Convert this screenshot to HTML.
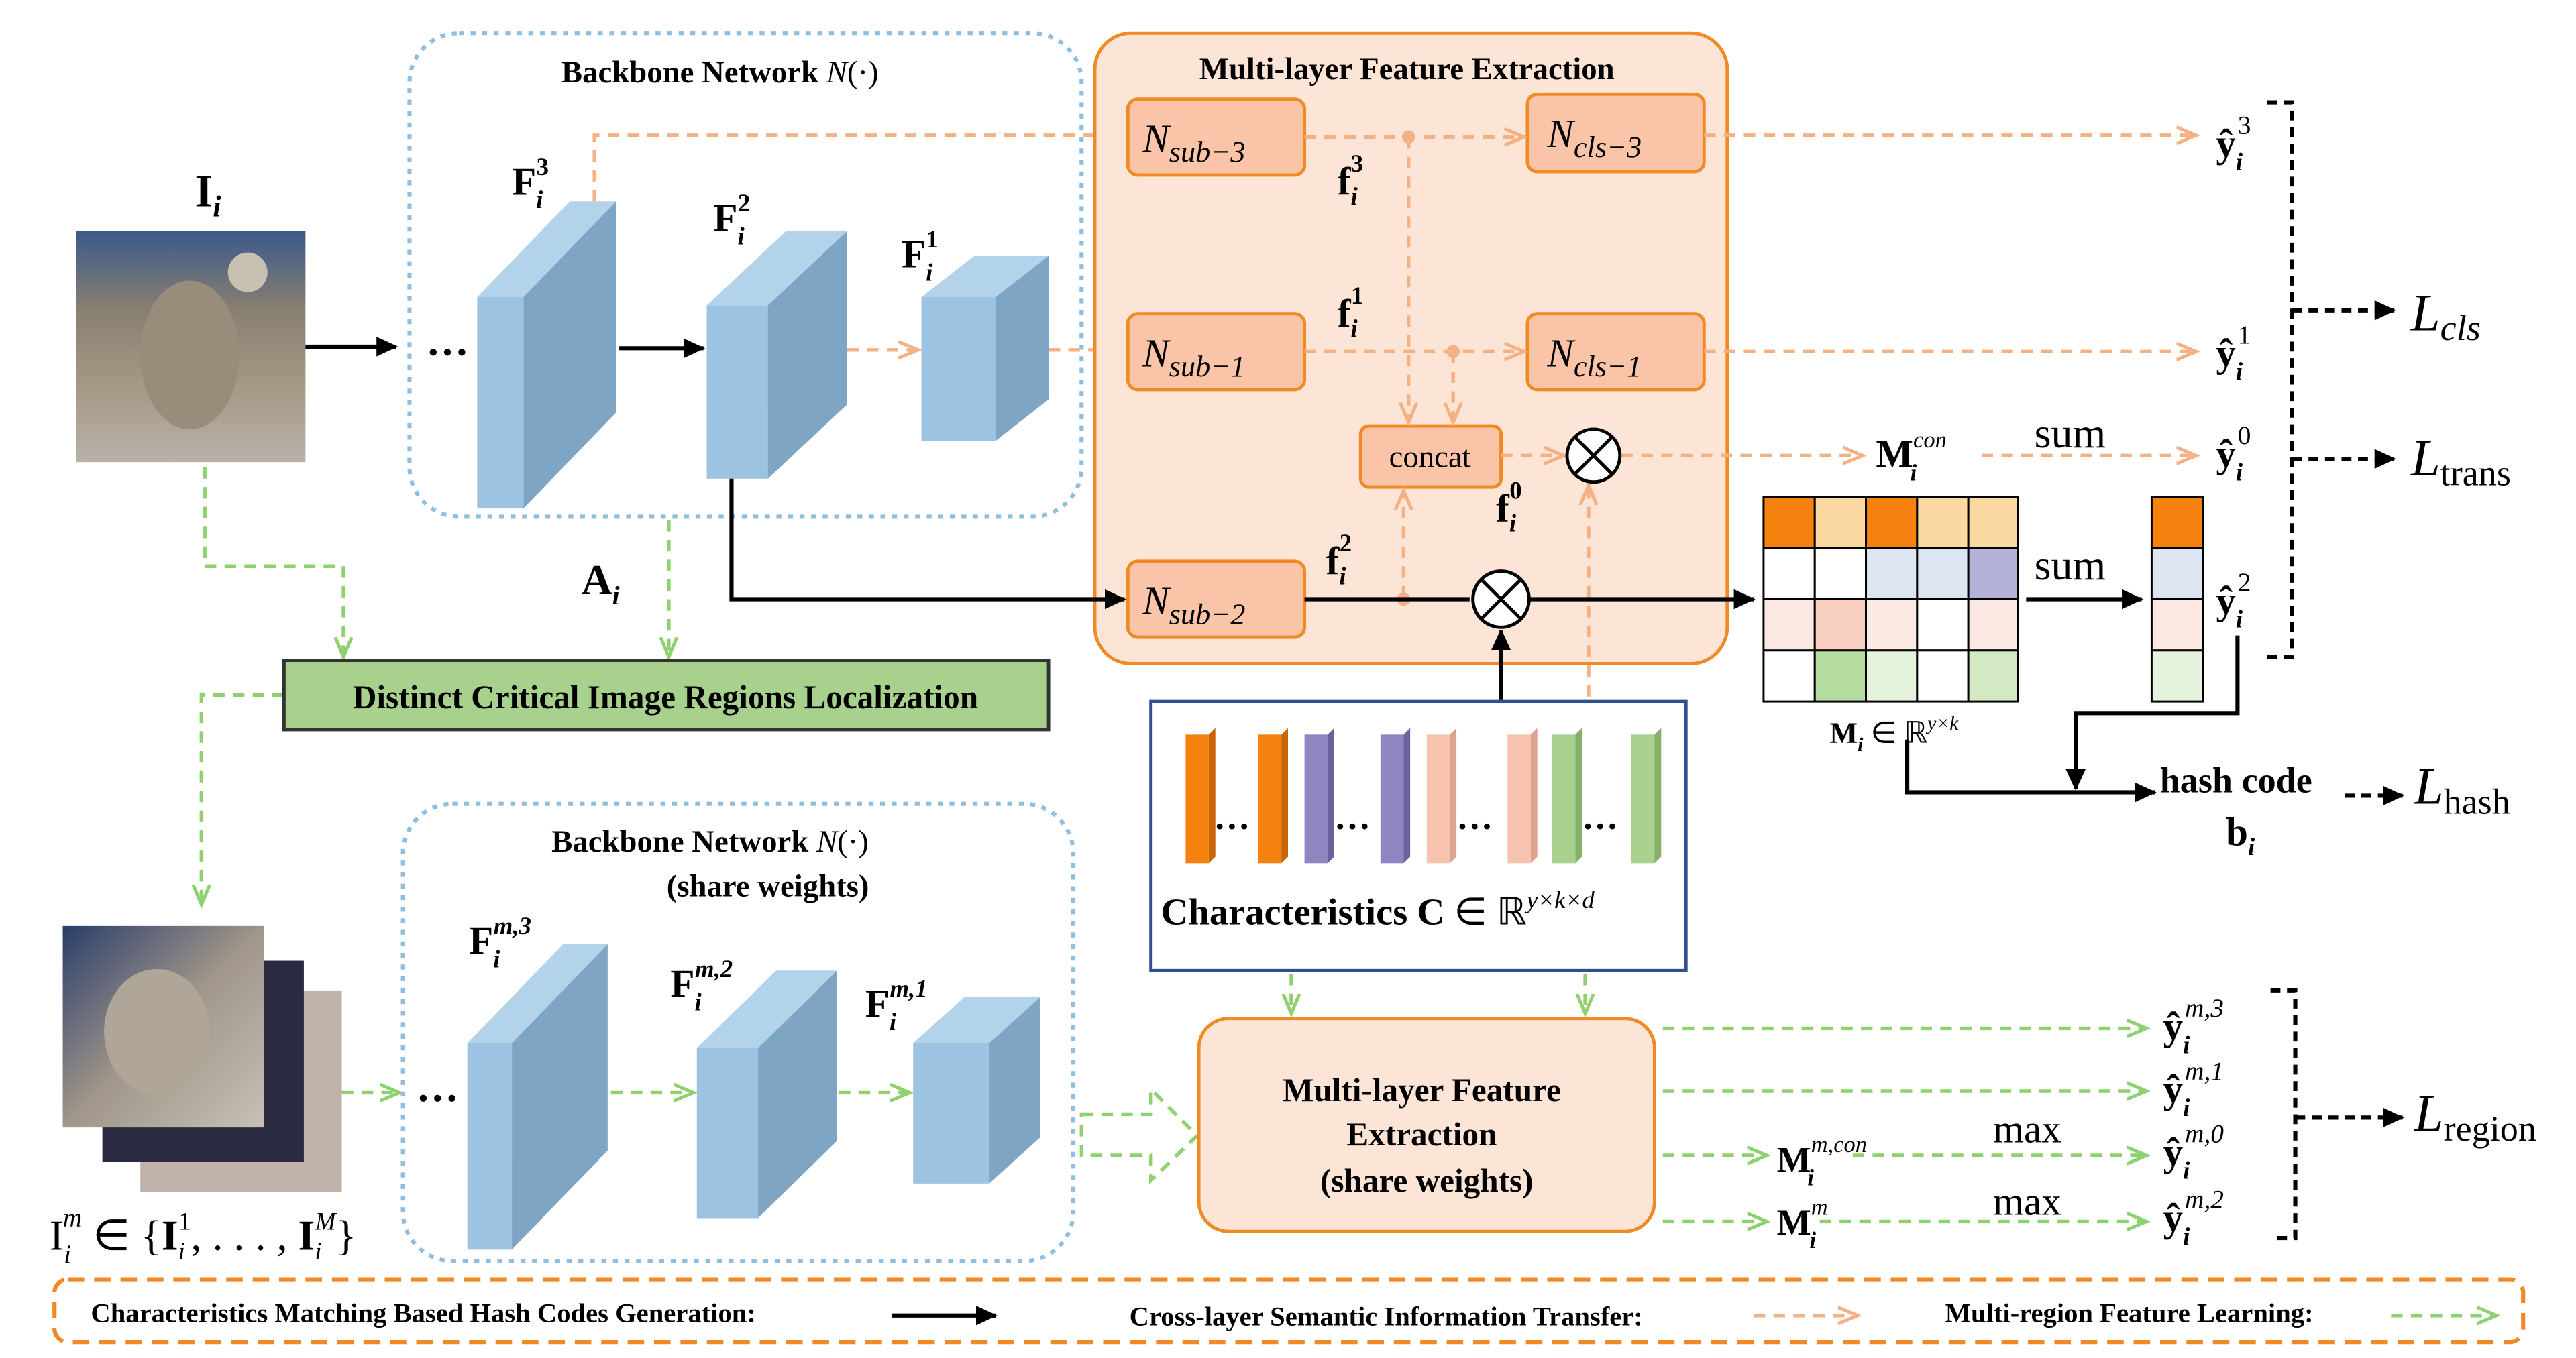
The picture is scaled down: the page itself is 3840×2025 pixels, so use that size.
<!DOCTYPE html>
<html><head><meta charset="utf-8"><style>
html,body{margin:0;padding:0;background:#fff}
svg{display:block}
text{font-family:"Liberation Serif",serif;fill:#000}
.b{font-weight:bold}
.i{font-style:italic}
</style></head><body>
<svg width="3840" height="2025" viewBox="0 0 1560 822.7" preserveAspectRatio="none" xmlns="http://www.w3.org/2000/svg">
<defs>
<marker id="ak" markerUnits="userSpaceOnUse" markerWidth="14" markerHeight="12" refX="12" refY="6" orient="auto"><path d="M0,0 L13,6 L0,12 z" fill="#000"/></marker>
<marker id="ao" markerUnits="userSpaceOnUse" markerWidth="14" markerHeight="12" refX="12" refY="6" orient="auto"><path d="M0,1 L12,6 L0,11" fill="none" stroke="#f4b183" stroke-width="2"/></marker>
<marker id="ag" markerUnits="userSpaceOnUse" markerWidth="14" markerHeight="12" refX="12" refY="6" orient="auto"><path d="M0,1 L12,6 L0,11" fill="none" stroke="#8fd16f" stroke-width="2"/></marker>
<linearGradient id="bird" x1="0" y1="0" x2="0" y2="1"><stop offset="0" stop-color="#3c5a8a"/><stop offset="0.35" stop-color="#8a8070"/><stop offset="0.7" stop-color="#a89a88"/><stop offset="1" stop-color="#b8b0a8"/></linearGradient>
<linearGradient id="bird2" x1="0" y1="0" x2="1" y2="1"><stop offset="0" stop-color="#2a3e6a"/><stop offset="0.5" stop-color="#a0968a"/><stop offset="1" stop-color="#c8c0b4"/></linearGradient>
</defs>

<!-- input image -->
<text x="118" y="125" class="b" font-size="28">I<tspan font-size="18" class="i" dy="6">i</tspan></text>
<rect x="46" y="140" width="139" height="140" fill="url(#bird)"/>
<ellipse cx="115" cy="215" rx="30" ry="45" fill="#9a8c7a"/>
<circle cx="150" cy="165" r="12" fill="#c8c0b0"/>
<line x1="185" y1="210" x2="240" y2="210" stroke="#000" stroke-width="2.5" marker-end="url(#ak)"/>

<!-- Backbone 1 -->
<rect x="248" y="20" width="407" height="293" rx="30" fill="none" stroke="#8fbfe0" stroke-width="2.5" stroke-dasharray="3,4"/>
<text x="340" y="50" class="b" font-size="19">Backbone Network <tspan class="i" font-weight="normal">N</tspan><tspan font-weight="normal">(·)</tspan></text>

<g>
<polygon points="289,180 345,122 373,122 317,180" fill="#b3d3ea"/><rect x="289" y="180" width="28" height="128" fill="#9cc3e2"/><polygon points="317,180 373,122 373,250 317,308" fill="#7ea5c3"/>
<polygon points="428,185 476,140 513,140 465,185" fill="#b3d3ea"/><rect x="428" y="185" width="37" height="105" fill="#9cc3e2"/><polygon points="465,185 513,140 513,245 465,290" fill="#7ea5c3"/>
<polygon points="558,180 590,155 635,155 603,180" fill="#b3d3ea"/><rect x="558" y="180" width="45" height="87" fill="#9cc3e2"/><polygon points="603,180 635,155 635,242 603,267" fill="#7ea5c3"/>
</g>
<text x="258" y="222" class="b" font-size="26">···</text>
<line x1="375" y1="211" x2="426" y2="211" stroke="#000" stroke-width="2.5" marker-end="url(#ak)"/>
<text x="310" y="118" class="b" font-size="24">F<tspan font-size="15" class="i" dy="8">i</tspan><tspan font-size="15" dx="-4" dy="-20">3</tspan></text>
<text x="432" y="140" class="b" font-size="24">F<tspan font-size="15" class="i" dy="8">i</tspan><tspan font-size="15" dx="-4" dy="-20">2</tspan></text>
<text x="546" y="162" class="b" font-size="24">F<tspan font-size="15" class="i" dy="8">i</tspan><tspan font-size="15" dx="-4" dy="-20">1</tspan></text>

<g stroke="#f4b183" stroke-width="2.2" stroke-dasharray="7,5" fill="none">
<polyline points="360,122 360,82 683,82" marker-end="url(#ao)"/>
<line x1="513" y1="212" x2="556" y2="212" marker-end="url(#ao)"/>
<line x1="635" y1="212" x2="683" y2="212" marker-end="url(#ao)"/>
</g>

<!-- Multi-layer box -->
<rect x="663" y="20" width="383" height="382" rx="22" fill="#fce5d6" stroke="#f08a24" stroke-width="2"/>
<text x="852" y="48" class="b" font-size="19" text-anchor="middle">Multi-layer Feature Extraction</text>
<g fill="#f9c4a8" stroke="#f08a24" stroke-width="2">
<rect x="683" y="60" width="107" height="46" rx="6"/>
<rect x="925" y="57" width="107" height="47" rx="6"/>
<rect x="683" y="190" width="107" height="46" rx="6"/>
<rect x="925" y="190" width="107" height="46" rx="6"/>
<rect x="824" y="258" width="85" height="37" rx="5"/>
<rect x="683" y="340" width="107" height="46" rx="6"/>
</g>
<g class="i" font-size="24">
<text x="692" y="92">N<tspan font-size="18" dy="6">sub−3</tspan></text>
<text x="937" y="89">N<tspan font-size="18" dy="6">cls−3</tspan></text>
<text x="692" y="222">N<tspan font-size="18" dy="6">sub−1</tspan></text>
<text x="937" y="222">N<tspan font-size="18" dy="6">cls−1</tspan></text>
<text x="692" y="372">N<tspan font-size="18" dy="6">sub−2</tspan></text>
</g>
<text x="866" y="283" font-size="19" text-anchor="middle">concat</text>
<g class="b" font-size="24">
<text x="810" y="118">f<tspan font-size="15" class="i" dy="6">i</tspan><tspan font-size="15" dx="-4" dy="-20">3</tspan></text>
<text x="810" y="198">f<tspan font-size="15" class="i" dy="6">i</tspan><tspan font-size="15" dx="-4" dy="-20">1</tspan></text>
<text x="906" y="316">f<tspan font-size="15" class="i" dy="6">i</tspan><tspan font-size="15" dx="-4" dy="-20">0</tspan></text>
<text x="803" y="348">f<tspan font-size="15" class="i" dy="6">i</tspan><tspan font-size="15" dx="-4" dy="-20">2</tspan></text>
</g>

<g stroke="#f4b183" stroke-width="2.2" stroke-dasharray="7,5" fill="none">
<line x1="790" y1="83" x2="923" y2="83" marker-end="url(#ao)"/>
<line x1="853" y1="83" x2="853" y2="256" marker-end="url(#ao)"/>
<line x1="790" y1="213" x2="923" y2="213" marker-end="url(#ao)"/>
<line x1="880" y1="213" x2="880" y2="256" marker-end="url(#ao)"/>
<line x1="909" y1="276" x2="947" y2="276" marker-end="url(#ao)"/>
<line x1="1032" y1="82" x2="1330" y2="82" marker-end="url(#ao)"/>
<line x1="1032" y1="213" x2="1330" y2="213" marker-end="url(#ao)"/>
<line x1="982" y1="276" x2="1128" y2="276" marker-end="url(#ao)"/>
<line x1="1200" y1="276" x2="1330" y2="276" marker-end="url(#ao)"/>
<line x1="850" y1="362" x2="850" y2="297" marker-end="url(#ao)"/>
<line x1="962" y1="422" x2="962" y2="294" marker-end="url(#ao)"/>
</g>
<circle cx="853" cy="83" r="4" fill="#f4b183"/><circle cx="880" cy="213" r="4" fill="#f4b183"/><circle cx="850" cy="363" r="4" fill="#f4b183"/>

<g stroke="#000" stroke-width="2" fill="#fff">
<circle cx="965" cy="276" r="16"/><path d="M954,265 L976,287 M976,265 L954,287"/>
<circle cx="909" cy="363" r="17"/><path d="M897,351 L921,375 M921,351 L897,375"/>
</g>

<g stroke="#000" stroke-width="2.5" fill="none">
<polyline points="443,290 443,363 681,363" marker-end="url(#ak)"/>
<line x1="790" y1="363" x2="890" y2="363"/>
<line x1="926" y1="363" x2="1062" y2="363" marker-end="url(#ak)"/>
<line x1="909" y1="424" x2="909" y2="382" marker-end="url(#ak)"/>
<line x1="1227" y1="363" x2="1297" y2="363" marker-end="url(#ak)"/>
<polyline points="1355,385 1355,432 1257,432 1257,478" marker-end="url(#ak)"/>
<polyline points="1155,448 1155,480 1305,480" marker-end="url(#ak)"/>
</g>

<text x="1136" y="283" class="b" font-size="24">M<tspan font-size="14" class="i" font-weight="normal" dy="-12">con</tspan><tspan font-size="14" class="i" dx="-22" dy="20">i</tspan></text>
<text x="1232" y="271" font-size="26">sum</text>
<text x="1232" y="351" font-size="26">sum</text>

<!-- matrix -->
<g stroke="#000" stroke-width="1.2">
<rect x="1068" y="301" width="31" height="31" fill="#f5820f"/><rect x="1099" y="301" width="31" height="31" fill="#fcd9a0"/><rect x="1130" y="301" width="31" height="31" fill="#f5820f"/><rect x="1161" y="301" width="31" height="31" fill="#fcd9a0"/><rect x="1192" y="301" width="30" height="31" fill="#fcd9a0"/>
<rect x="1068" y="332" width="31" height="31" fill="#fff"/><rect x="1099" y="332" width="31" height="31" fill="#fff"/><rect x="1130" y="332" width="31" height="31" fill="#dde5f3"/><rect x="1161" y="332" width="31" height="31" fill="#dde5f3"/><rect x="1192" y="332" width="30" height="31" fill="#b3b3d9"/>
<rect x="1068" y="363" width="31" height="31" fill="#fde9e3"/><rect x="1099" y="363" width="31" height="31" fill="#f8cfc0"/><rect x="1130" y="363" width="31" height="31" fill="#fde9e3"/><rect x="1161" y="363" width="31" height="31" fill="#fff"/><rect x="1192" y="363" width="30" height="31" fill="#fde9e3"/>
<rect x="1068" y="394" width="31" height="31" fill="#fff"/><rect x="1099" y="394" width="31" height="31" fill="#b5dca0"/><rect x="1130" y="394" width="31" height="31" fill="#e6f3dc"/><rect x="1161" y="394" width="31" height="31" fill="#fff"/><rect x="1192" y="394" width="30" height="31" fill="#d2e9c4"/>
<rect x="1303" y="301" width="31" height="31" fill="#f5820f"/><rect x="1303" y="332" width="31" height="31" fill="#dde5f3"/><rect x="1303" y="363" width="31" height="31" fill="#fde9e3"/><rect x="1303" y="394" width="31" height="31" fill="#e6f3dc"/>
</g>
<text x="1108" y="450" class="b" font-size="18">M<tspan font-size="12" class="i" dy="5">i</tspan><tspan font-weight="normal" dy="-5"> ∈ ℝ</tspan><tspan font-size="12" class="i" font-weight="normal" dy="-8">y×k</tspan></text>

<!-- y hats -->
<g class="b" font-size="24">
<text x="1342" y="95">ŷ<tspan font-size="15" class="i" dy="8">i</tspan><tspan font-size="16" font-weight="normal" dx="-3" dy="-22">3</tspan></text>
<text x="1342" y="222">ŷ<tspan font-size="15" class="i" dy="8">i</tspan><tspan font-size="16" font-weight="normal" dx="-3" dy="-22">1</tspan></text>
<text x="1342" y="283">ŷ<tspan font-size="15" class="i" dy="8">i</tspan><tspan font-size="16" font-weight="normal" dx="-3" dy="-22">0</tspan></text>
<text x="1342" y="372">ŷ<tspan font-size="15" class="i" dy="8">i</tspan><tspan font-size="16" font-weight="normal" dx="-3" dy="-22">2</tspan></text>
</g>
<g stroke="#000" stroke-width="2.5" stroke-dasharray="6,4" fill="none">
<polyline points="1373,62 1388,62 1388,398 1373,398"/>
<line x1="1388" y1="188" x2="1450" y2="188" marker-end="url(#ak)"/>
<line x1="1388" y1="278" x2="1450" y2="278" marker-end="url(#ak)"/>
<line x1="1420" y1="482" x2="1455" y2="482" marker-end="url(#ak)"/>
<polyline points="1375,600 1390,600 1390,750 1375,750"/>
<line x1="1390" y1="677" x2="1455" y2="677" marker-end="url(#ak)"/>
</g>
<text x="1460" y="200" class="i" font-size="32">L<tspan font-size="22" dy="6">cls</tspan></text>
<text x="1460" y="288" class="i" font-size="32">L<tspan font-size="22" font-style="normal" dy="6">trans</tspan></text>
<text x="1462" y="487" class="i" font-size="32">L<tspan font-size="22" font-style="normal" dy="6">hash</tspan></text>
<text x="1462" y="685" class="i" font-size="32">L<tspan font-size="22" font-style="normal" dy="6">region</tspan></text>
<text x="1308" y="480" class="b" font-size="22">hash code</text>
<text x="1348" y="512" class="b" font-size="24">b<tspan font-size="15" class="i" dy="6">i</tspan></text>

<!-- green connectors -->
<g stroke="#8fd16f" stroke-width="2.2" stroke-dasharray="7,5" fill="none">
<polyline points="124,283 124,343 208,343 208,398" marker-end="url(#ag)"/>
<line x1="405" y1="315" x2="405" y2="398" marker-end="url(#ag)"/>
<polyline points="172,421 122,421 122,548" marker-end="url(#ag)"/>
<line x1="207" y1="662" x2="242" y2="662" marker-end="url(#ag)"/>
<line x1="370" y1="662" x2="420" y2="662" marker-end="url(#ag)"/>
<line x1="508" y1="662" x2="551" y2="662" marker-end="url(#ag)"/>
<polygon points="655,675 697,675 697,660 725,688 697,715 697,700 655,700"/>
<line x1="782" y1="590" x2="782" y2="614" marker-end="url(#ag)"/>
<line x1="960" y1="590" x2="960" y2="614" marker-end="url(#ag)"/>
<line x1="1007" y1="623" x2="1300" y2="623" marker-end="url(#ag)"/>
<line x1="1007" y1="661" x2="1300" y2="661" marker-end="url(#ag)"/>
<line x1="1007" y1="700" x2="1070" y2="700" marker-end="url(#ag)"/>
<line x1="1007" y1="740" x2="1070" y2="740" marker-end="url(#ag)"/>
<line x1="1122" y1="700" x2="1300" y2="700" marker-end="url(#ag)"/>
<line x1="1102" y1="740" x2="1300" y2="740" marker-end="url(#ag)"/>
</g>
<text x="352" y="360" class="b" font-size="26">A<tspan font-size="16" class="i" dy="6">i</tspan></text>
<rect x="172" y="400" width="463" height="42" fill="#a9d18e" stroke="#333" stroke-width="2"/>
<text x="403" y="429" class="b" font-size="20" text-anchor="middle">Distinct Critical Image Regions Localization</text>

<!-- image stack -->
<rect x="85" y="600" width="122" height="122" fill="#c0b2a8"/>
<rect x="62" y="582" width="122" height="122" fill="#2a2a40"/>
<rect x="38" y="561" width="122" height="122" fill="url(#bird2)"/>
<ellipse cx="95" cy="625" rx="32" ry="38" fill="#b0a698"/>
<text x="30" y="757" font-size="26">I<tspan font-size="16" class="i" dy="8">i</tspan><tspan font-size="16" class="i" dx="-5" dy="-22">m</tspan><tspan dy="14"> ∈ {</tspan><tspan class="b">I</tspan><tspan font-size="15" class="i" dy="6">i</tspan><tspan font-size="15" dx="-4" dy="-18">1</tspan><tspan dy="12">, . . . , </tspan><tspan class="b">I</tspan><tspan font-size="15" class="i" dy="6">i</tspan><tspan font-size="15" class="i" dx="-4" dy="-18">M</tspan><tspan dy="12">}</tspan></text>

<!-- Backbone 2 -->
<rect x="244" y="487" width="406" height="277" rx="30" fill="none" stroke="#8fbfe0" stroke-width="2.5" stroke-dasharray="3,4"/>
<text x="334" y="516" class="b" font-size="19">Backbone Network  <tspan class="i" font-weight="normal">N</tspan><tspan font-weight="normal">(·)</tspan></text>
<text x="465" y="543" class="b" font-size="19" text-anchor="middle">(share weights)</text>
<g>
<polygon points="283,632 341,572 368,572 310,632" fill="#b3d3ea"/><rect x="283" y="632" width="27" height="125" fill="#9cc3e2"/><polygon points="310,632 368,572 368,697 310,757" fill="#7ea5c3"/>
<polygon points="422,635 470,588 507,588 459,635" fill="#b3d3ea"/><rect x="422" y="635" width="37" height="103" fill="#9cc3e2"/><polygon points="459,635 507,588 507,691 459,738" fill="#7ea5c3"/>
<polygon points="553,632 584,604 630,604 599,632" fill="#b3d3ea"/><rect x="553" y="632" width="46" height="85" fill="#9cc3e2"/><polygon points="599,632 630,604 630,689 599,717" fill="#7ea5c3"/>
</g>
<text x="252" y="674" class="b" font-size="26">···</text>
<g class="b" font-size="24">
<text x="284" y="578">F<tspan font-size="15" class="i" dy="8">i</tspan><tspan font-size="15" class="i" dx="-4" dy="-20">m,3</tspan></text>
<text x="406" y="604">F<tspan font-size="15" class="i" dy="8">i</tspan><tspan font-size="15" class="i" dx="-4" dy="-20">m,2</tspan></text>
<text x="524" y="616">F<tspan font-size="15" class="i" dy="8">i</tspan><tspan font-size="15" class="i" dx="-4" dy="-20">m,1</tspan></text>
</g>

<!-- Characteristics -->
<rect x="697" y="425" width="324" height="163" fill="#fff" stroke="#2f4f8f" stroke-width="2"/>
<g>
<rect x="718" y="445" width="14" height="78" fill="#f5820f"/><polygon points="732,445 736,441 736,519 732,523" fill="#c9660a"/>
<rect x="762" y="445" width="14" height="78" fill="#f5820f"/><polygon points="776,445 780,441 780,519 776,523" fill="#c9660a"/>
<rect x="790" y="445" width="14" height="78" fill="#8e86c0"/><polygon points="804,445 808,441 808,519 804,523" fill="#6a629c"/>
<rect x="836" y="445" width="14" height="78" fill="#8e86c0"/><polygon points="850,445 854,441 854,519 850,523" fill="#6a629c"/>
<rect x="864" y="445" width="14" height="78" fill="#f6c4ae"/><polygon points="878,445 882,441 882,519 878,523" fill="#dca48c"/>
<rect x="913" y="445" width="14" height="78" fill="#f6c4ae"/><polygon points="927,445 931,441 931,519 927,523" fill="#dca48c"/>
<rect x="940" y="445" width="14" height="78" fill="#a9d18e"/><polygon points="954,445 958,441 958,519 954,523" fill="#86b06a"/>
<rect x="988" y="445" width="14" height="78" fill="#a9d18e"/><polygon points="1002,445 1006,441 1006,519 1002,523" fill="#86b06a"/>
</g>
<g class="b" font-size="22"><text x="735" y="502">…</text><text x="808" y="502">…</text><text x="882" y="502">…</text><text x="958" y="502">…</text></g>
<text x="703" y="560" class="b" font-size="23">Characteristics C <tspan font-weight="normal">∈ ℝ</tspan><tspan font-size="15" class="i" font-weight="normal" dy="-10">y×k×d</tspan></text>

<!-- Multi-layer 2 -->
<rect x="726" y="617" width="276" height="129" rx="18" fill="#fce5d6" stroke="#f08a24" stroke-width="2"/>
<text x="861" y="667" class="b" font-size="20" text-anchor="middle">Multi-layer Feature</text>
<text x="861" y="694" class="b" font-size="20" text-anchor="middle">Extraction</text>
<text x="864" y="722" class="b" font-size="20" text-anchor="middle">(share weights)</text>

<text x="1076" y="710" class="b" font-size="22">M<tspan font-size="14" class="i" font-weight="normal" dy="-12">m,con</tspan><tspan font-size="14" class="i" dx="-36" dy="20">i</tspan></text>
<text x="1076" y="748" class="b" font-size="22">M<tspan font-size="14" class="i" font-weight="normal" dy="-12">m</tspan><tspan font-size="14" class="i" dx="-11" dy="20">i</tspan></text>
<text x="1207" y="692" font-size="24">max</text>
<text x="1207" y="736" font-size="24">max</text>
<g class="b" font-size="24">
<text x="1310" y="630">ŷ<tspan font-size="15" class="i" dy="8">i</tspan><tspan font-size="16" class="i" font-weight="normal" dx="-3" dy="-22">m,3</tspan></text>
<text x="1310" y="668">ŷ<tspan font-size="15" class="i" dy="8">i</tspan><tspan font-size="16" class="i" font-weight="normal" dx="-3" dy="-22">m,1</tspan></text>
<text x="1310" y="706">ŷ<tspan font-size="15" class="i" dy="8">i</tspan><tspan font-size="16" class="i" font-weight="normal" dx="-3" dy="-22">m,0</tspan></text>
<text x="1310" y="746">ŷ<tspan font-size="15" class="i" dy="8">i</tspan><tspan font-size="16" class="i" font-weight="normal" dx="-3" dy="-22">m,2</tspan></text>
</g>

<!-- legend -->
<rect x="33" y="775" width="1495" height="38" rx="8" fill="none" stroke="#f08a24" stroke-width="2.5" stroke-dasharray="10,6"/>
<text x="55" y="801" class="b" font-size="16.5">Characteristics Matching Based Hash Codes Generation:</text>
<line x1="540" y1="797" x2="603" y2="797" stroke="#000" stroke-width="2.5" marker-end="url(#ak)"/>
<text x="684" y="803" class="b" font-size="16.5">Cross-layer Semantic Information Transfer:</text>
<line x1="1062" y1="797" x2="1125" y2="797" stroke="#f4b183" stroke-width="2.2" stroke-dasharray="7,5" marker-end="url(#ao)"/>
<text x="1178" y="801" class="b" font-size="16.5">Multi-region Feature Learning:</text>
<line x1="1448" y1="797" x2="1512" y2="797" stroke="#8fd16f" stroke-width="2.2" stroke-dasharray="7,5" marker-end="url(#ag)"/>
</svg>
</body></html>
